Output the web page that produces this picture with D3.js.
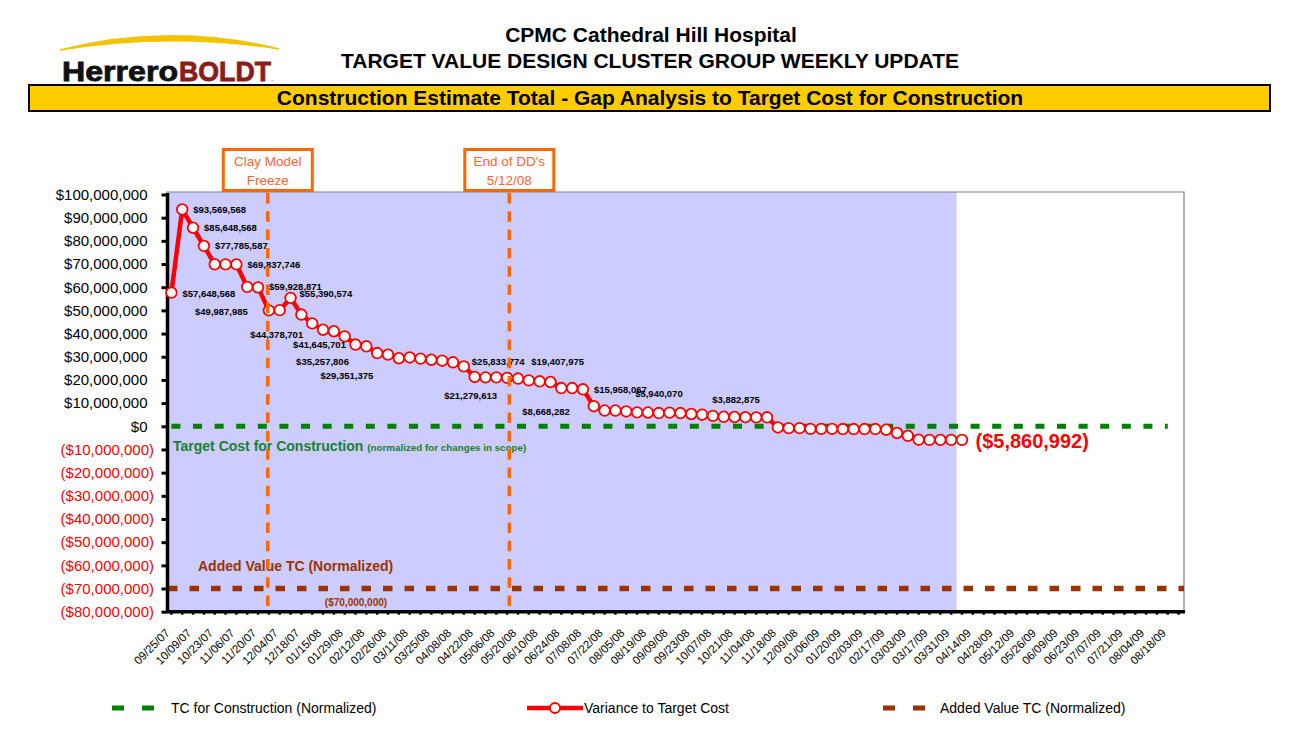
<!DOCTYPE html>
<html><head><meta charset="utf-8">
<script src="https://cdn.jsdelivr.net/npm/d3@7"></script>
<style>
body{margin:0;background:#fff;}
svg{display:block;font-family:"Liberation Sans",Arial,sans-serif;}
</style>
</head><body>
<svg id="c" width="1301" height="735"></svg>
<script>
// ---------------- DATA ----------------
const categories = [
"09/25/07","10/02/07","10/09/07","10/16/07","10/23/07","10/30/07","11/06/07","11/13/07","11/20/07","11/27/07",
"12/04/07","12/11/07","12/18/07","01/08/08","01/15/08","01/22/08","01/29/08","02/05/08","02/12/08","02/19/08",
"02/26/08","03/04/08","03/11/08","03/18/08","03/25/08","04/01/08","04/08/08","04/15/08","04/22/08","04/29/08",
"05/06/08","05/13/08","05/20/08","06/03/08","06/10/08","06/17/08","06/24/08","07/01/08","07/08/08","07/15/08",
"07/22/08","07/29/08","08/05/08","08/12/08","08/19/08","09/02/08","09/09/08","09/16/08","09/23/08","09/30/08",
"10/07/08","10/14/08","10/21/08","10/28/08","11/04/08","11/11/08","11/18/08","12/02/08","12/09/08","12/16/08",
"01/06/09","01/13/09","01/20/09","01/27/09","02/03/09","02/10/09","02/17/09","02/24/09","03/03/09","03/10/09",
"03/17/09","03/24/09","03/31/09","04/07/09","04/14/09","04/21/09","04/28/09","05/05/09","05/12/09","05/19/09",
"05/26/09","06/02/09","06/09/09","06/16/09","06/23/09","06/30/09","07/07/09","07/14/09","07/21/09","07/28/09",
"08/04/09","08/11/09","08/18/09","08/25/09"];

// Variance to Target Cost (one value per reported week)
const variance = [
57648568, 93569568, 85648568, 77785587, 69900000, 69850000, 69837746, 60100000, 59928871, 49987985,
50100000, 55390574, 48200000, 44378701, 41645701, 41000000, 38800000, 35257806, 34500000, 31600000,
30900000, 29351375, 29700000, 29200000, 28700000, 28300000, 27600000, 25833774, 21279613, 21100000,
21100000, 20900000, 20600000, 19800000, 19407975, 19100000, 16500000, 16500000, 15958067, 8668282,
6800000, 6800000, 6400000, 6000000, 5940070, 5700000, 5900000, 5700000, 5300000, 5000000,
4500000, 4100000, 4000000, 3900000, 3850000, 3882875, -500000, -800000, -800000, -1100000,
-1100000, -1100000, -1200000, -1200000, -1200000, -1200000, -1500000, -2900000, -4100000, -5800000,
-5860992, -5860992, -5860992, -5860992];

const tcValue = 0;               // TC for Construction (Normalized)
const tcLastIndex = 92;          // series extends to this category
const addedValueTC = -70000000;  // Added Value TC (Normalized)
const highlightCount = 73;       // shaded weeks

const yTicks = [100e6,90e6,80e6,70e6,60e6,50e6,40e6,30e6,20e6,10e6,0,-10e6,-20e6,-30e6,-40e6,-50e6,-60e6,-70e6,-80e6];
const labeledIdx = [0,1,2,3,6,8,11,9,13,14,17,21,27,28,34,38,39,44,55];
const finalIdx = 73;

const events = [
  {pos: 8.9, lines: ["Clay Model","Freeze"]},
  {pos: 31.2, lines: ["End of DD's","5/12/08"]}
];

// ---------------- STYLE (label placement relative to points) ----------------
const labelStyle = {
  0:{a:"start",dx:11,dy:1}, 1:{a:"start",dx:11,dy:0}, 2:{a:"start",dx:11,dy:0}, 3:{a:"start",dx:11,dy:0},
  6:{a:"start",dx:11,dy:0}, 8:{a:"start",dx:11,dy:-1}, 11:{a:"start",dx:9,dy:-4}, 9:{a:"end",dx:-21,dy:1},
  13:{a:"end",dx:-9,dy:11}, 14:{a:"middle",dx:-3.5,dy:15}, 17:{a:"middle",dx:-33,dy:17}, 21:{a:"middle",dx:-52,dy:17},
  27:{a:"start",dx:8,dy:-5}, 28:{a:"middle",dx:-4,dy:19}, 34:{a:"middle",dx:18,dy:-20}, 38:{a:"start",dx:11,dy:0},
  39:{a:"end",dx:-24,dy:5}, 44:{a:"middle",dx:11,dy:-19}, 55:{a:"middle",dx:-31,dy:-18}
};

// ---------------- CHART ----------------
const svg = d3.select("#c");
const P = {left:166, right:1184, top:192, bottom:611.7};

const x = d3.scaleBand().domain(d3.range(categories.length)).range([P.left, P.right]).padding(0);
const step = x.bandwidth();
const cx = i => P.left + (i + 0.5) * step;
const y = d3.scaleLinear().domain([-80e6, 100e6]).range([P.bottom, 194.5]);

const money = d3.format("$,");
const fmt = v => v < 0 ? "(" + money(-v) + ")" : money(v);

// Header
svg.append("text").attr("x",651).attr("y",42).attr("text-anchor","middle")
  .attr("font-size",21).attr("font-weight","bold").text("CPMC Cathedral Hill Hospital");
svg.append("text").attr("x",650).attr("y",68).attr("text-anchor","middle")
  .attr("font-size",21).attr("font-weight","bold").text("TARGET VALUE DESIGN CLUSTER GROUP WEEKLY UPDATE");
svg.append("rect").attr("x",29).attr("y",85).attr("width",1241).attr("height",26)
  .attr("fill","#FFCC00").attr("stroke","#000").attr("stroke-width",2);
svg.append("text").attr("x",650).attr("y",105).attr("text-anchor","middle")
  .attr("font-size",21).attr("font-weight","bold").text("Construction Estimate Total - Gap Analysis to Target Cost for Construction");

// Logo
svg.append("path").attr("d","M60,50 Q170,22 279,49 Q170,32 60,50 Z").attr("fill","#F2C300").attr("stroke","#F2C300").attr("stroke-width",1.5);
svg.append("text").attr("x",62).attr("y",81).attr("font-size",27).attr("font-weight","bold")
  .attr("textLength",116).attr("lengthAdjust","spacingAndGlyphs").attr("fill","#111")
  .attr("stroke","#111").attr("stroke-width",0.8).text("Herrero");
svg.append("text").attr("x",179).attr("y",81).attr("font-size",27).attr("font-weight","bold")
  .attr("textLength",92).attr("lengthAdjust","spacingAndGlyphs").attr("fill","#8A1C1C")
  .attr("stroke","#8A1C1C").attr("stroke-width",0.8).text("BOLDT");
svg.append("text").attr("x",271).attr("y",81).attr("font-size",8).attr("fill","#8A1C1C").text(".");

// Plot background
svg.append("rect").attr("x",x(0)).attr("y",P.top).attr("width",x(highlightCount)-x(0)).attr("height",P.bottom-P.top)
  .attr("fill","#CCCCFF");
svg.append("path").attr("d",`M${P.left},${P.top}H${P.right}V${P.bottom}`).attr("fill","none")
  .attr("stroke","#808080").attr("stroke-width",1.2);

// Target lines
const tcLine = d3.line().x(i => cx(i)).y(() => y(tcValue));
svg.append("path").attr("d", tcLine([0, tcLastIndex])).attr("stroke","#008000").attr("stroke-width",5)
  .attr("stroke-dasharray","9,12.6").attr("fill","none");
svg.append("path").attr("d", d3.line()([[P.left+2, y(addedValueTC)],[P.right, y(addedValueTC)]]))
  .attr("stroke","#993300").attr("stroke-width",5.5).attr("stroke-dasharray","9.5,12").attr("fill","none");

svg.append("text").attr("x",173).attr("y",451).attr("fill","#1A8030").attr("font-weight","bold").attr("font-size",14)
  .text("Target Cost for Construction").append("tspan").attr("font-size",9.8).attr("dx",4).text("(normalized for changes in scope)");
svg.append("text").attr("x",198).attr("y",571).attr("fill","#993300").attr("font-weight","bold").attr("font-size",14)
  .text("Added Value TC (Normalized)");
svg.append("text").attr("x",356).attr("y",605.5).attr("text-anchor","middle").attr("fill","#993300").attr("font-weight","bold").attr("font-size",10)
  .text(fmt(addedValueTC));

// Axes
const yAxis = svg.append("g").attr("transform",`translate(${P.left+1.5},0)`)
  .call(d3.axisLeft(y).tickValues(yTicks).tickFormat(fmt).tickSize(6).tickPadding(6));
yAxis.select(".domain").attr("stroke","#000").attr("stroke-width",3.5).attr("d",`M0,${P.top+1}V${P.bottom}`);
yAxis.selectAll(".tick line").attr("stroke","#000").attr("stroke-width",3).attr("x1",-1);
yAxis.selectAll(".tick text").attr("font-size",15).attr("font-family",'"Liberation Sans",Arial,sans-serif')
  .attr("fill", d => d < 0 ? "#FF0000" : "#000")
  .attr("x", d => d < 0 ? -13.5 : -20);

const xAxis = svg.append("g").attr("transform",`translate(0,${P.bottom})`)
  .call(d3.axisBottom(x).tickSize(3).tickFormat(i => i % 2 === 0 ? categories[i] : ""));
xAxis.select(".domain").attr("stroke","#000").attr("stroke-width",3.5).attr("d",`M${P.left},0H${P.right+1}`);
xAxis.selectAll(".tick line").attr("stroke","#000").attr("stroke-width",2.5);
xAxis.selectAll(".tick text").attr("font-size",11.5).attr("font-family",'"Liberation Sans",Arial,sans-serif')
  .attr("fill","#000").attr("text-anchor","end").attr("x",0).attr("y",0).attr("dy",0)
  .attr("transform","translate(-1,22) rotate(-45)");

// Variance line
const vLine = d3.line().x((d,i) => cx(i)).y(d => y(d));
svg.append("path").attr("d", vLine(variance)).attr("stroke","#FF0000").attr("stroke-width",4.5)
  .attr("fill","none").attr("stroke-linejoin","round");
svg.append("g").selectAll("circle").data(variance).join("circle")
  .attr("cx",(d,i)=>cx(i)).attr("cy",d=>y(d)).attr("r",5.3)
  .attr("fill","#fff").attr("stroke","#FF0000").attr("stroke-width",1.8);

// Data labels
svg.append("g").selectAll("text").data(labeledIdx).join("text")
  .attr("x", i => cx(i) + labelStyle[i].dx).attr("y", i => y(variance[i]) + labelStyle[i].dy).attr("dy","0.35em")
  .attr("text-anchor", i => labelStyle[i].a).attr("font-size",9.5).attr("font-weight","bold").attr("fill","#000")
  .text(i => fmt(variance[i]));
svg.append("text").attr("x", cx(finalIdx)+13.5).attr("y", y(variance[finalIdx])+1).attr("dy","0.35em")
  .attr("font-size",20).attr("font-weight","bold").attr("fill","#FF0000").text(fmt(variance[finalIdx]));

// Event markers
const evX = p => P.left + (p + 0.5) * step;
events.forEach(ev => {
  const ex = evX(ev.pos);
  svg.append("line").attr("x1",ex).attr("x2",ex).attr("y1",P.top+1).attr("y2",P.bottom-1)
    .attr("stroke","#FF6600").attr("stroke-width",3.5).attr("stroke-dasharray","10.5,7.8");
  svg.append("rect").attr("x",ex-44.5).attr("y",149.5).attr("width",89).attr("height",41)
    .attr("fill","#fff").attr("stroke","#FF6600").attr("stroke-width",3);
  ev.lines.forEach((t,k) => svg.append("text").attr("x",ex).attr("y",166+k*18.5).attr("text-anchor","middle")
    .attr("font-size",13.5).attr("fill","#FF6633").text(t));
});

// Legend
const lg = svg.append("g");
[[112,124],[142,154]].forEach(s => lg.append("line").attr("x1",s[0]).attr("x2",s[1]).attr("y1",708).attr("y2",708)
  .attr("stroke","#008000").attr("stroke-width",5));
lg.append("text").attr("x",171).attr("y",713).attr("font-size",14).text("TC for Construction (Normalized)");
lg.append("line").attr("x1",527).attr("x2",583).attr("y1",708).attr("y2",708).attr("stroke","#FF0000").attr("stroke-width",4.5);
lg.append("circle").attr("cx",555).attr("cy",708).attr("r",5).attr("fill","#fff").attr("stroke","#FF0000").attr("stroke-width",1.8);
lg.append("text").attr("x",584).attr("y",713).attr("font-size",14).text("Variance to Target Cost");
[[883,895],[913,925]].forEach(s => lg.append("line").attr("x1",s[0]).attr("x2",s[1]).attr("y1",708).attr("y2",708)
  .attr("stroke","#993300").attr("stroke-width",5));
lg.append("text").attr("x",940).attr("y",713).attr("font-size",14).text("Added Value TC (Normalized)");
</script>
</body></html>
